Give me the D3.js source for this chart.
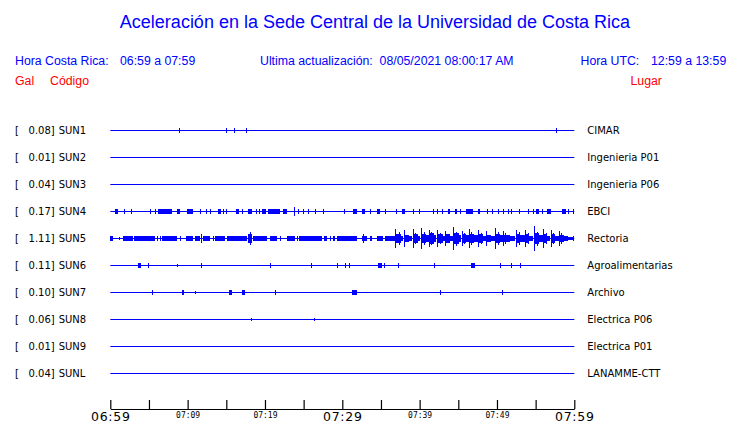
<!DOCTYPE html>
<html><head><meta charset="utf-8">
<script src="https://cdn.jsdelivr.net/npm/d3@7/dist/d3.min.js"></script>
<style>body{margin:0;background:#fff}svg{display:block}</style>
</head><body><svg id="c" width="740" height="423"></svg>
<script>
// ---------- DATA ----------
const stationCodes = ["SUN1","SUN2","SUN3","SUN4","SUN5","SUN6","SUN7","SUN8","SUN9","SUNL"];
const peakGal = ["0.08","0.01","0.04","0.17","1.11","0.11","0.10","0.06","0.01","0.04"];
const placeNames = ["CIMAR","Ingenieria P01","Ingenieria P06","EBCI","Rectoria","Agroalimentarias","Archivo","Electrica P06","Electrica P01","LANAMME-CTT"];
const tickMinutes = [0,5,10,15,20,25,30,35,40,45,50,55,60];
const tickLabels = ["06:59","","07:09","","07:19","","07:29","","07:39","","07:49","","07:59"];
const majorLabels = ["06:59","07:29","07:59"];

// spikes: [minute after 06:59, relative amplitude]
const spikesSUN1 = [[8.9,0.15],[14.9,0.15],[15.0,0.12],[16.0,0.12],[17.5,0.12],[57.6,0.12]];
const bandsSUN1 = [];
const spikesSUN4 = [[1.77,0.12],[2.64,0.12],[5.13,0.12],[5.78,0.12],[11.6,0.12],[12.38,0.12],[12.89,0.12],[14.57,0.12],[14.96,0.12],[17.03,0.12],[18.84,0.12],[19.23,0.12],[23.75,0.3],[24.27,0.12],[24.92,0.12],[25.56,0.12],[26.47,0.12],[27.51,0.12],[30.22,0.12],[33.58,0.12],[35.52,0.12],[36.94,0.12],[39.14,0.12],[39.92,0.12],[41.73,0.12],[42.25,0.12],[45.22,0.12],[48.71,0.12],[49.35,0.12],[50.13,0.12],[50.78,0.12],[51.43,0.12],[51.82,0.12],[52.85,0.12],[54.01,0.12],[54.66,0.12],[55.83,0.12],[59.18,0.12],[59.83,0.12]];
const bandsSUN4 = [[0.61,1.0,0.15],[6.17,7.98,0.15],[8.63,9.01,0.15],[9.92,10.69,0.15],[13.92,14.31,0.15],[16.26,16.64,0.15],[17.81,18.32,0.15],[19.62,20.13,0.15],[20.39,21.94,0.15],[22.33,22.85,0.15],[31.39,31.9,0.15],[32.55,32.94,0.15],[34.49,34.88,0.15],[37.72,38.11,0.15],[42.89,43.02,0.15],[43.67,43.93,0.15],[44.57,44.83,0.15],[45.99,46.9,0.15],[47.55,47.8,0.15],[55.05,55.44,0.15],[56.47,56.99,0.15],[58.41,58.93,0.15]];
const spikesSUN5 = [[1.13,0.1],[6.04,0.12],[6.43,0.12],[9.01,0.12],[11.73,0.3],[13.28,0.12],[18.0,0.45],[21.94,0.12],[24.14,0.12],[28.41,0.12],[32.7,0.3],
  [36.86,0.73],[37.98,0.62],[39.1,0.69],[40.14,0.79],[41.21,0.65],[42.21,0.65],[43.28,0.54],[44.36,0.85],[45.44,0.54],[46.42,0.69],[47.59,0.62],[48.58,0.54],[49.75,0.77],[50.82,0.52],[52.46,0.65],[53.63,0.65],[54.79,0.92],[55.99,0.69],[56.95,0.62],[58.06,0.54],
  [37.3,0.45],[39.4,0.4],[40.5,0.45],[41.5,0.45],[42.6,0.4],[44.7,0.5],[45.8,0.4],[46.7,0.45],[47.9,0.4],[50.1,0.45],[51.1,0.35],[52.8,0.45],[54.0,0.4],[55.2,0.5],[56.3,0.4],[57.3,0.4],[58.3,0.35]];
const bandsSUN5 = [[0,0.35,0.15],[1.64,2.93,0.15],[3.07,5.78,0.15],[6.69,8.63,0.15],[9.79,10.69,0.15],[10.95,11.6,0.15],[11.99,12.89,0.15],[13.54,14.83,0.15],[15.09,17.68,0.15],[17.81,18.32,0.28],[18.45,20.26,0.15],[20.65,21.56,0.15],[22.85,23.88,0.15],[24.4,27.38,0.15],[27.64,28.03,0.15],[28.8,29.06,0.15],[29.32,31.9,0.15],[32.55,33.19,0.15],[33.58,33.84,0.15],[34.49,35.26,0.15],[35.52,36.56,0.15],
  [36.56,36.86,0.12],[36.9,37.5,0.3],[37.5,37.95,0.15],[38.0,38.6,0.25],[38.6,39.05,0.15],[39.1,39.7,0.28],[39.7,40.1,0.15],[40.2,40.8,0.3],[40.8,41.15,0.2],[41.25,41.9,0.35],[41.9,42.2,0.2],[42.25,43.0,0.33],[43.0,43.25,0.18],[43.3,43.9,0.28],[43.9,44.3,0.18],[44.4,45.0,0.35],[45.0,45.4,0.25],[45.5,46.0,0.3],[46.0,46.4,0.2],[46.45,47.0,0.32],[47.0,47.55,0.2],[47.6,48.2,0.28],[48.2,48.55,0.15],[48.6,49.2,0.2],[49.2,49.7,0.12],[49.8,50.4,0.33],[50.4,50.8,0.2],[50.85,51.6,0.25],[51.6,52.4,0.18],[52.5,53.0,0.33],[53.0,53.6,0.2],[53.65,54.2,0.28],[54.2,54.75,0.18],[54.8,55.4,0.35],[55.4,55.95,0.2],[56.0,56.5,0.3],[56.5,56.9,0.15],[57.0,57.5,0.28],[57.5,58.0,0.15],[58.1,58.6,0.25],[58.6,59.2,0.12],[59.2,59.85,0.1],[59.85,60,0.15]];
const spikesSUN6 = [[4.91,0.12],[8.66,0.1],[11.73,0.12],[20.65,0.12],[25.95,0.12],[29.32,0.12],[30.35,0.12],[30.87,0.12],[35.39,0.12],[37.2,0.12],[41.86,0.12],[50.4,0.12],[51.82,0.12],[52.98,0.12]];
const bandsSUN6 = [[3.62,4.06,0.15],[34.62,35.13,0.15],[46.67,47.19,0.15]];
const spikesSUN7 = [[5.43,0.12],[10.99,0.1],[21.3,0.12],[42.64,0.12],[50.66,0.12]];
const bandsSUN7 = [[9.27,9.53,0.15],[15.35,15.74,0.15],[17.03,17.42,0.15],[31.26,31.9,0.15]];
const spikesSUN8 = [[18.19,0.1],[26.34,0.1]];
const bandsSUN8 = [];
const spikesByStation = {SUN1:spikesSUN1,SUN4:spikesSUN4,SUN5:spikesSUN5,SUN6:spikesSUN6,SUN7:spikesSUN7,SUN8:spikesSUN8};
const bandsByStation = {SUN1:bandsSUN1,SUN4:bandsSUN4,SUN5:bandsSUN5,SUN6:bandsSUN6,SUN7:bandsSUN7,SUN8:bandsSUN8};

// ---------- CHART ----------
const svg = d3.select("#c");
const BLUE = "#0000ff", RED = "#ff0000";
const x = d3.scaleLinear().domain([0,60]).range([110.3,574.3]);
const row = d3.scalePoint().domain(stationCodes).range([130,373]);
const amp = d3.scaleLinear().domain([-1,1]).range([13,-13]);
const SANS = "'Liberation Sans', Arial, sans-serif";
const DJ = "'DejaVu Sans', sans-serif";
const px = v => Math.round(v) + 0.5;

svg.append("text").attr("x",375).attr("y",28).attr("text-anchor","middle")
  .attr("font-family",SANS).attr("font-size",18).attr("fill",BLUE)
  .text("Aceleración en la Sede Central de la Universidad de Costa Rica");

const hdr = [
  ["Hora Costa Rica:",15,65,BLUE],["06:59 a 07:59",120,65,BLUE],
  ["Ultima actualización:  08/05/2021 08:00:17 AM",260,65,BLUE],
  ["Hora UTC:",580.5,65,BLUE],["12:59 a 13:59",651,65,BLUE],
  ["Gal",15,85,RED],["Código",50,85,RED],["Lugar",630.5,85,RED]
];
svg.append("g").selectAll("text").data(hdr).join("text")
  .attr("x",d=>d[1]).attr("y",d=>d[2]).attr("fill",d=>d[3])
  .attr("font-family",SANS).attr("font-size",12.3)
  .attr("xml:space","preserve").style("white-space","pre")
  .text(d=>d[0]);

const rows = svg.append("g").selectAll("g").data(stationCodes).join("g")
  .attr("transform",d=>`translate(0,${row(d)})`);

rows.append("text").attr("x",15).attr("y",4).attr("font-family",DJ).attr("font-size",10).attr("fill","#000").text("[");
rows.append("text").attr("x",54.7).attr("y",4).attr("text-anchor","end").attr("font-family",DJ).attr("font-size",10).attr("fill","#000").text((d,i)=>peakGal[i]+"]");
rows.append("text").attr("x",58.7).attr("y",4).attr("font-family",DJ).attr("font-size",10).attr("fill","#000").text(d=>d);
rows.append("text").attr("x",587.3).attr("y",4).attr("font-family",DJ).attr("font-size",10).attr("fill","#000").text((d,i)=>placeNames[i]);

rows.append("line").attr("x1",x(0)).attr("x2",x(60)).attr("y1",amp(0)+0.5).attr("y2",amp(0)+0.5)
  .attr("stroke",BLUE).attr("stroke-width",1);

rows.each(function(code){
  const g = d3.select(this);
  const bands = bandsByStation[code] || [];
  const spikes = spikesByStation[code] || [];
  g.selectAll("rect.b").data(bands).join("rect").attr("class","b")
    .attr("x",d=>Math.round(x(d[0]))).attr("width",d=>Math.max(1,Math.round(x(d[1])-x(d[0]))))
    .attr("y",d=>Math.round(amp(d[2]))).attr("height",d=>Math.round(amp(-d[2]))-Math.round(amp(d[2]))+1)
    .attr("fill",BLUE);
  g.selectAll("line.s").data(spikes).join("line").attr("class","s")
    .attr("x1",d=>px(x(d[0]))).attr("x2",d=>px(x(d[0])))
    .attr("y1",d=>Math.round(amp(d[1]))).attr("y2",d=>Math.round(amp(-d[1]))+1)
    .attr("stroke",BLUE).attr("stroke-width",1);
});

// time axis
const axis = d3.axisBottom(x).tickValues(tickMinutes).tickSize(-9).tickSizeOuter(0)
  .tickFormat((d,i)=>tickLabels[i]);
const ax = svg.append("g").attr("transform","translate(0,409)").call(axis);
ax.select(".domain").attr("stroke","#000").attr("stroke-width",1.2);
ax.selectAll(".tick line").attr("stroke","#000").attr("stroke-width",1.2);
const isMajor = t => majorLabels.includes(tickLabels[tickMinutes.indexOf(t)]);
ax.selectAll(".tick text").attr("fill","#000")
  .attr("font-family",t=>isMajor(t)?"'DejaVu Sans', sans-serif":"'DejaVu Sans Mono', monospace")
  .attr("font-size",t=>isMajor(t)?12.5:8)
  .attr("letter-spacing",t=>isMajor(t)?0.7:0)
  .attr("dy",null)
  .attr("y",t=>isMajor(t)?12:9);
</script></body></html>
